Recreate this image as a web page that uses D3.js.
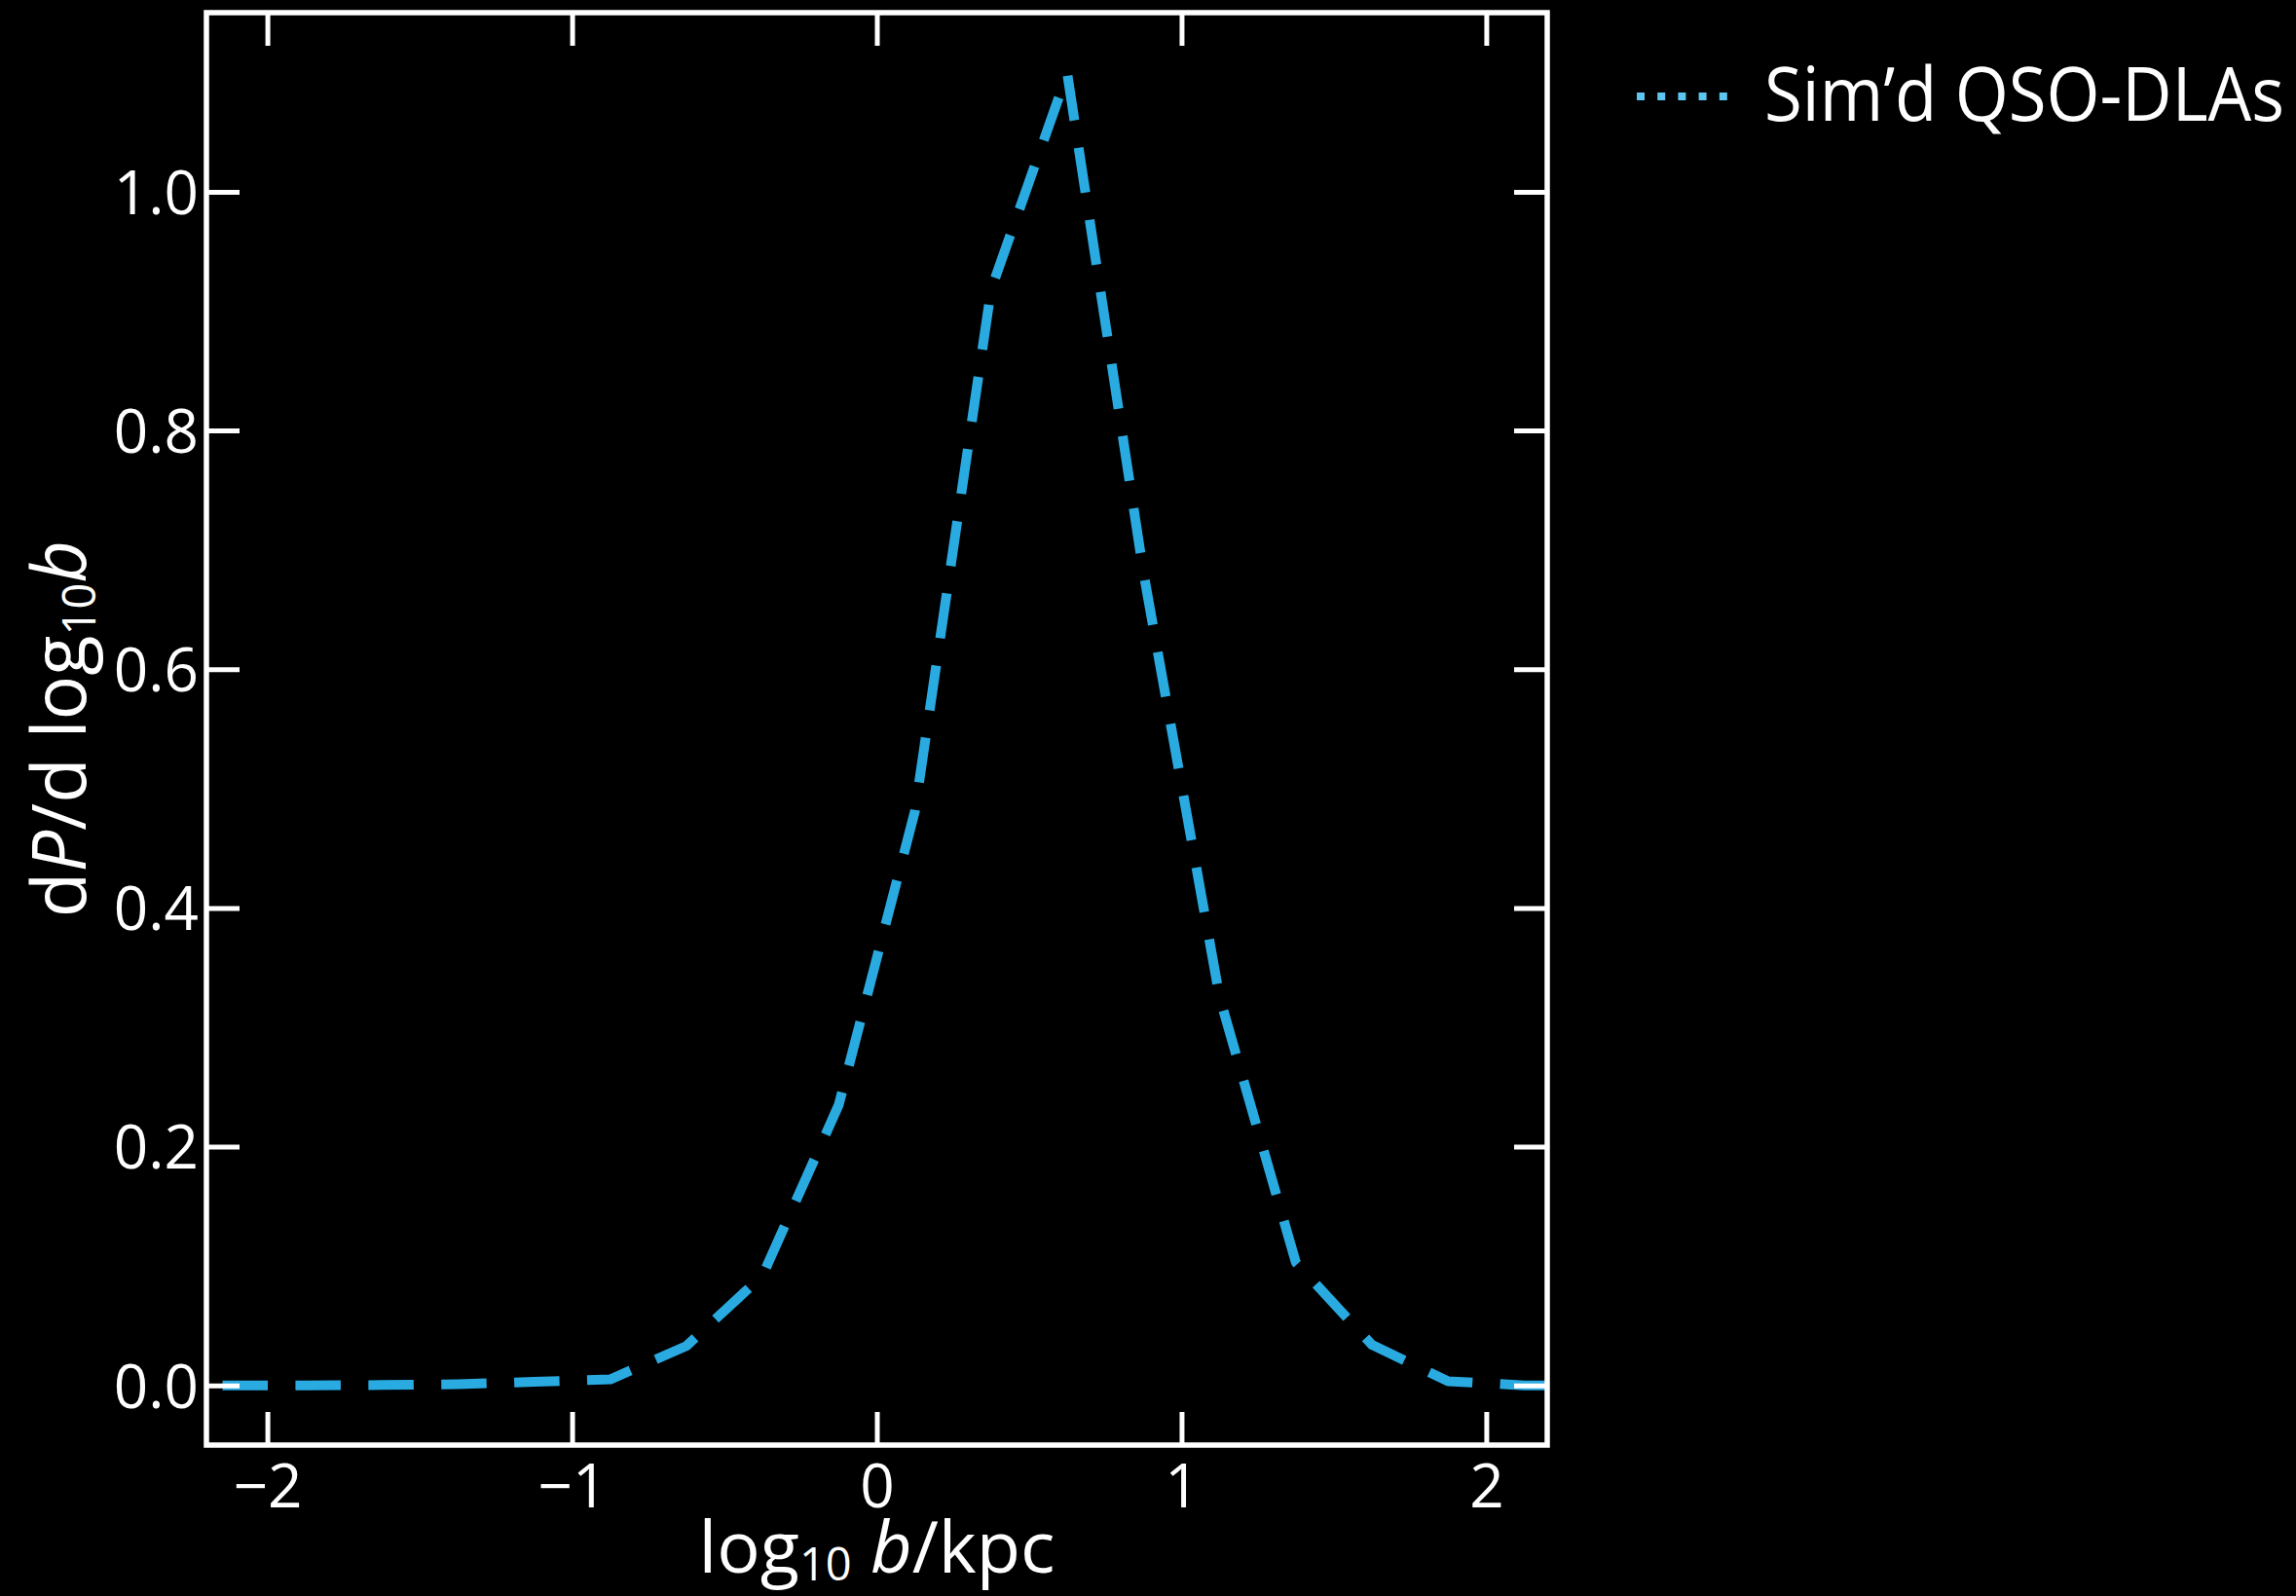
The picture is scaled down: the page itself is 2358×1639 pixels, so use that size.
<!DOCTYPE html>
<html>
<head>
<meta charset="utf-8">
<script src="https://cdn.jsdelivr.net/npm/d3@7"></script>
<style>
  html, body { margin: 0; padding: 0; background: #000; }
  svg { display: block; }
  text { font-family: "Open Sans", "Noto Sans", sans-serif; fill: #fff; }
</style>
</head>
<body>
<svg id="chart" width="2358" height="1639"></svg>
<script>
// ---- data ----
const logB = [-2.375, -2.125, -1.875, -1.625, -1.375, -1.125, -0.875, -0.625, -0.375, -0.125,
              0.125, 0.375, 0.625, 0.875, 1.125, 1.375, 1.625, 1.875, 2.125, 2.375];
const dPdlogB = [0.0, 0.0, 0.0, 0.0003, 0.001, 0.003, 0.005, 0.033, 0.092, 0.235,
                 0.481, 0.918, 1.099, 0.681, 0.325, 0.103, 0.034, 0.0035, 0.0, 0.0];
const xTicks = [-2, -1, 0, 1, 2];
const xTickLabels = ["\u22122", "\u22121", "0", "1", "2"];
const yTicks = [0.0, 0.2, 0.4, 0.6, 0.8, 1.0];
const yTickLabels = ["0.0", "0.2", "0.4", "0.6", "0.8", "1.0"];
const seriesName = "Sim\u2019d QSO-DLAs";

(function () {
// ---- layout ----
const pL = 212, pR = 1589, pT = 13, pB = 1484;
const svg = d3.select("#chart");
svg.append("rect").attr("width", 2358).attr("height", 1639).attr("fill", "#000");

const x = d3.scaleLinear().domain([-2.2, 2.2]).range([pL, pR]);
const y = d3.scaleLinear().domain([-0.05, 1.15]).range([pB, pT]);

svg.append("clipPath").attr("id", "plotclip")
  .append("rect").attr("x", pL).attr("y", pT)
  .attr("width", pR - pL).attr("height", pB - pT);

// ---- data line ----
const pts = logB.map((v, i) => [v, dPdlogB[i]]);
const line = d3.line().x(d => x(d[0])).y(d => y(d[1]));
svg.append("path")
  .attr("clip-path", "url(#plotclip)")
  .attr("d", line(pts))
  .attr("fill", "none")
  .attr("stroke", "#29abe2")
  .attr("stroke-width", 10)
  .attr("stroke-dasharray", "46.5 28.4")
  .attr("stroke-dashoffset", 3.6)
  .attr("stroke-linejoin", "round")
  .attr("stroke-linecap", "butt");

// ---- axes (ticks inward on all four sides) ----
const tickLen = 34, tickW = 5;
const axBottom = d3.axisBottom(x).tickValues(xTicks).tickSizeInner(-tickLen).tickSizeOuter(0)
  .tickFormat((d, i) => xTickLabels[i]);
const axTop = d3.axisTop(x).tickValues(xTicks).tickSizeInner(-tickLen).tickSizeOuter(0).tickFormat("");
const axLeft = d3.axisLeft(y).tickValues(yTicks).tickSizeInner(-tickLen).tickSizeOuter(0)
  .tickFormat((d, i) => yTickLabels[i]);
const axRight = d3.axisRight(y).tickValues(yTicks).tickSizeInner(-tickLen).tickSizeOuter(0).tickFormat("");

function styleAxis(g) {
  g.select(".domain").remove();
  g.selectAll(".tick line").attr("stroke", "#fff").attr("stroke-width", tickW);
  g.selectAll(".tick text").attr("fill", "#fff")
    .style("font-family", "'Open Sans', 'Noto Sans', sans-serif").style("font-size", "62px");
}
const gB = svg.append("g").attr("transform", `translate(0,${pB})`).call(axBottom).call(styleAxis);
gB.selectAll(".tick text").attr("dy", "0").attr("y", 64);
svg.append("g").attr("transform", `translate(0,${pT})`).call(axTop).call(styleAxis);
const gL = svg.append("g").attr("transform", `translate(${pL},0)`).call(axLeft).call(styleAxis);
gL.selectAll(".tick text").attr("dy", "0.36em").attr("x", -8);
svg.append("g").attr("transform", `translate(${pR},0)`).call(axRight).call(styleAxis);

// ---- frame ----
svg.append("rect")
  .attr("x", pL).attr("y", pT)
  .attr("width", pR - pL).attr("height", pB - pT)
  .attr("fill", "none").attr("stroke", "#fff").attr("stroke-width", 5.5);

// ---- axis labels ----
const xl = svg.append("text")
  .attr("x", (pL + pR) / 2).attr("y", 1615)
  .attr("text-anchor", "middle").style("font-size", "74px");
xl.append("tspan").text("log");
xl.append("tspan").attr("dy", 8).style("font-size", "47px").text("10");
xl.append("tspan").attr("dy", -8).text("\u00a0");
xl.append("tspan").style("font-style", "italic").text("b");
xl.append("tspan").text("/kpc");

const yl = svg.append("text")
  .attr("transform", `translate(88,${(pT + pB) / 2}) rotate(-90)`)
  .attr("text-anchor", "middle").style("font-size", "76px");
yl.append("tspan").text("d");
yl.append("tspan").style("font-style", "italic").text("P");
yl.append("tspan").text("/d log");
yl.append("tspan").attr("dy", 10).style("font-size", "47px").text("10");
yl.append("tspan").attr("dy", -10).style("font-style", "italic").text("b");

// ---- legend ----
const legY = 99;
svg.append("line")
  .attr("x1", 1681).attr("x2", 1775).attr("y1", legY).attr("y2", legY)
  .attr("stroke", "#5ec5f0").attr("stroke-width", 8)
  .attr("stroke-dasharray", "8 13.2");
const legText = svg.append("g").attr("transform", "translate(1812,124) scale(0.9,1)")
  .append("text")
  .attr("x", 0).attr("y", 0)
  .style("font-size", "76px")
  .text(seriesName);
// fit the legend label to the reference width
const w = legText.node().getComputedTextLength();
legText.node().parentNode.setAttribute("transform", `translate(1812,124) scale(${534 / w},1)`);
})();
</script>
</body>
</html>
